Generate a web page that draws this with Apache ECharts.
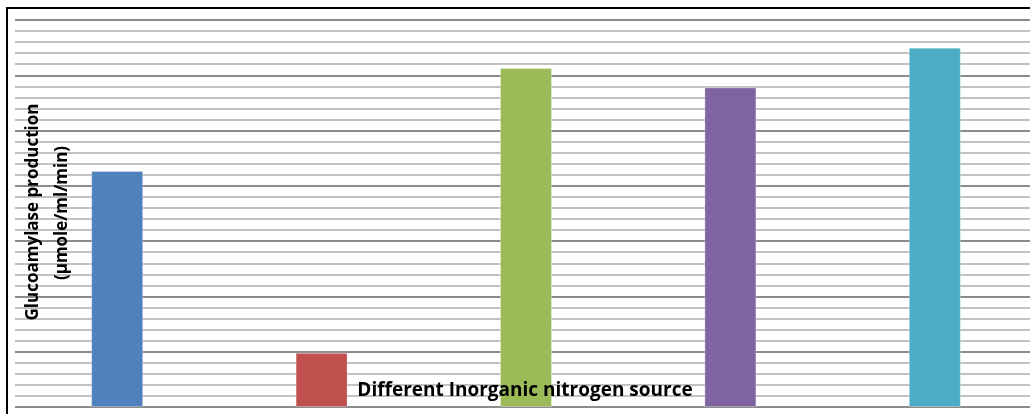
<!DOCTYPE html>
<html>
<head>
<meta charset="utf-8">
<script src="https://cdn.jsdelivr.net/npm/echarts@6/dist/echarts.min.js"></script>
<style>
html,body{margin:0;padding:0;background:#fff;overflow:hidden;width:1030px;height:414px;}
#c{width:1045px;height:414px;}
</style>
</head>
<body>
<div id="c"></div>
<script>
// Data (scale in minor-gridline units)
const categories = ['Source 1', 'Source 2', 'Source 3', 'Source 4', 'Source 5'];
const values = [21.35, 4.9, 30.65, 28.9, 32.5];
const barColors = ['#4F81BD', '#C0504D', '#9BBB59', '#8064A2', '#4BACC6'];
const yTitle1 = 'Glucoamylase production';
const yTitle2 = '(\u00b5mole/ml/min)';
const xTitle = 'Different Inorganic nitrogen source';

const FONT = '"Open Sans", "Liberation Sans", sans-serif';
const chart = echarts.init(document.getElementById('c'), null, {renderer: 'canvas'});
chart.setOption({
  animation: false,
  backgroundColor: '#fff',
  grid: {left: 15, top: 20, width: 1022, height: 387, containLabel: false},
  xAxis: {
    type: 'category',
    data: categories,
    axisLine: {show: false},
    axisTick: {show: false},
    axisLabel: {show: false},
    splitLine: {show: false}
  },
  yAxis: {
    type: 'value',
    min: 0, max: 35, interval: 5,
    axisLine: {show: false},
    axisTick: {show: false},
    axisLabel: {show: false},
    splitLine: {show: true, lineStyle: {color: '#8c8c8c', width: 2}},
    minorTick: {show: false, splitNumber: 5},
    minorSplitLine: {show: true, lineStyle: {color: '#c2c2c2', width: 2}}
  },
  series: [{
    type: 'bar',
    barWidth: 52,
    data: values.map((v, i) => ({value: v, itemStyle: {color: barColors[i]}})),
    itemStyle: {borderColor: 'rgba(255,255,255,0.3)', borderWidth: 1}
  }],
  graphic: [
    {type: 'rect', z: 100, silent: true,
     shape: {x: 7, y: 8, width: 1060, height: 440},
     style: {fill: 'none', stroke: '#000', lineWidth: 2}},
    {type: 'text', z: 100, x: 33, y: 212, rotation: Math.PI / 2,
     style: {text: yTitle1, font: 'bold 17px ' + FONT, fill: '#000', textAlign: 'center', textVerticalAlign: 'middle'}},
    {type: 'text', z: 100, x: 62, y: 213, rotation: Math.PI / 2,
     style: {text: yTitle2, font: 'bold 17px ' + FONT, fill: '#000', textAlign: 'center', textVerticalAlign: 'middle'}},
    {type: 'text', z: 100, x: 525, y: 391,
     style: {text: xTitle, font: 'bold 19px ' + FONT, fill: '#000', textAlign: 'center', textVerticalAlign: 'middle'}}
  ]
});
</script>
</body>
</html>
